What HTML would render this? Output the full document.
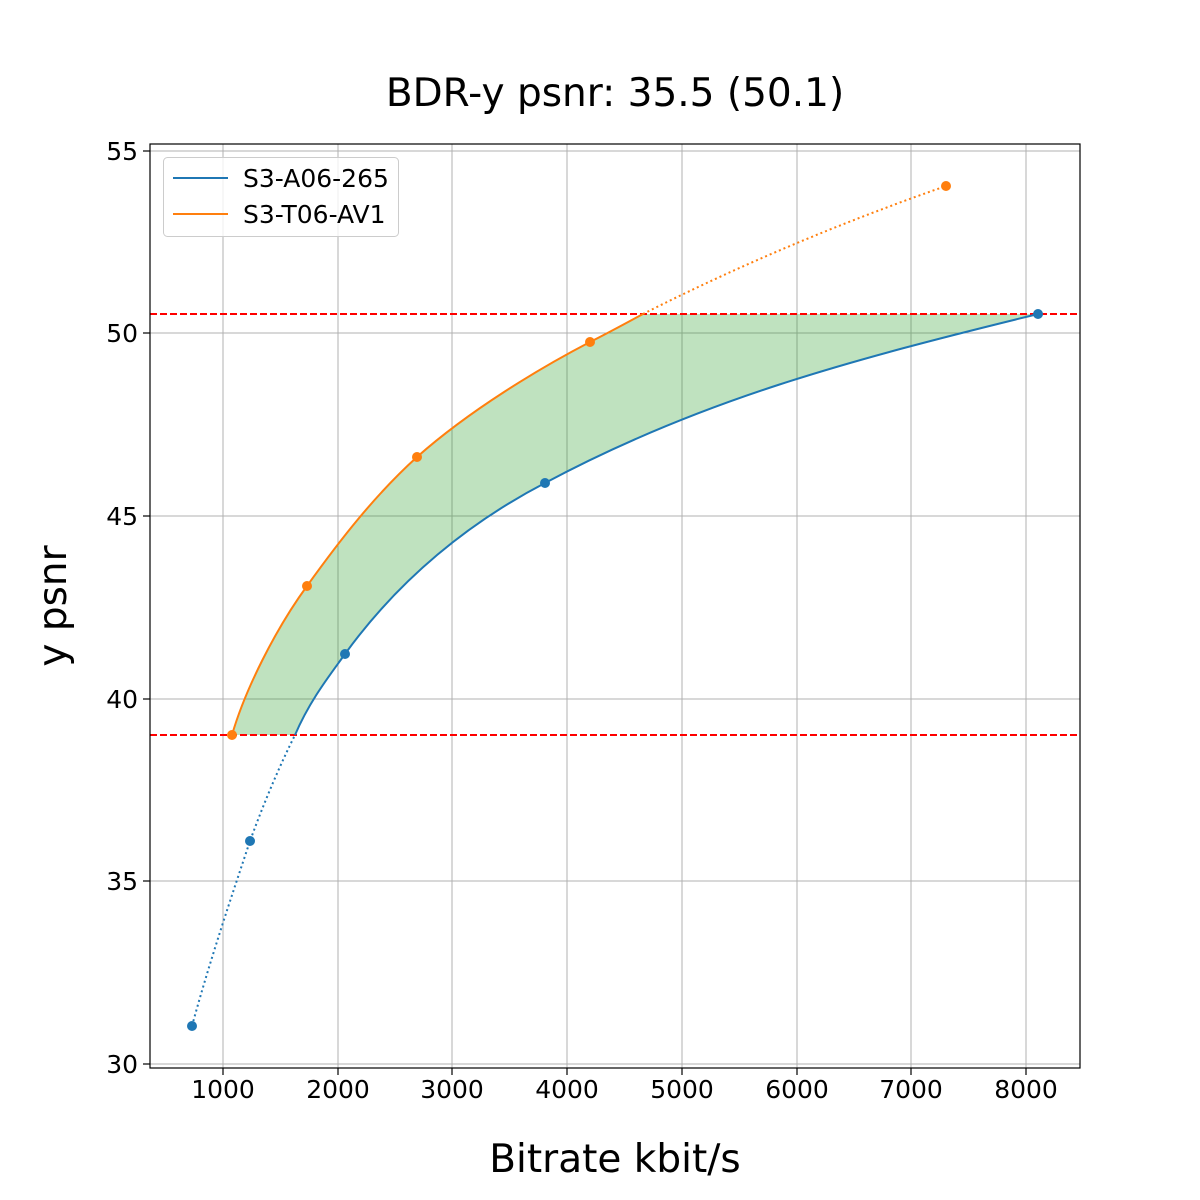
<!DOCTYPE html>
<html><head><meta charset="utf-8"><style>
body{margin:0;background:#fff}
svg{display:block;font-family:"DejaVu Sans","Liberation Sans",sans-serif}
</style></head><body>
<svg width="1200" height="1200" viewBox="0 0 1200 1200">
<rect width="1200" height="1200" fill="#fff"/>
<text x="615" y="106" font-size="39" text-anchor="middle" fill="#000">BDR-y psnr: 35.5 (50.1)</text>
<g stroke="#b0b0b0" stroke-width="1">
<line x1="223" y1="144" x2="223" y2="1068"/><line x1="338" y1="144" x2="338" y2="1068"/>
<line x1="452" y1="144" x2="452" y2="1068"/><line x1="567" y1="144" x2="567" y2="1068"/>
<line x1="682" y1="144" x2="682" y2="1068"/><line x1="797" y1="144" x2="797" y2="1068"/>
<line x1="911" y1="144" x2="911" y2="1068"/><line x1="1026" y1="144" x2="1026" y2="1068"/>
<line x1="150" y1="151" x2="1080" y2="151"/><line x1="150" y1="333" x2="1080" y2="333"/>
<line x1="150" y1="516" x2="1080" y2="516"/><line x1="150" y1="699" x2="1080" y2="699"/>
<line x1="150" y1="881" x2="1080" y2="881"/><line x1="150" y1="1064" x2="1080" y2="1064"/>
</g>
<path d="M232,735 C245,690 275,630 307,586 C340,540 375,495 417,457 C470,410 540,368 590,342 C610,332 628,322 643,314 L1038,314 C850,360 700,400 545,483 C470,522 400,578 345,654 C330,675 310,700 295,735 Z" fill="#2ca02c" fill-opacity="0.3"/>
<g stroke="#ff0000" stroke-width="2" stroke-dasharray="7,3">
<line x1="150" y1="314" x2="1080" y2="314"/><line x1="150" y1="735" x2="1080" y2="735"/>
</g>
<path d="M295,735 C310,700 330,675 345,654 C400,578 470,522 545,483 C700,400 850,360 1038,314" fill="none" stroke="#1f77b4" stroke-width="2"/>
<path d="M192,1026 C210,960 232,895 250,841 C265,800 280,765 295,735" fill="none" stroke="#1f77b4" stroke-width="2" stroke-dasharray="2,3"/>
<path d="M232,735 C245,690 275,630 307,586 C340,540 375,495 417,457 C470,410 540,368 590,342 C610,332 628,322 643,314" fill="none" stroke="#ff7f0e" stroke-width="2"/>
<path d="M643,314 C720,275 820,230 946,186" fill="none" stroke="#ff7f0e" stroke-width="2" stroke-dasharray="2,3"/>
<g fill="#1f77b4"><circle cx="192" cy="1026" r="5"/><circle cx="250" cy="841" r="5"/><circle cx="345" cy="654" r="5"/><circle cx="545" cy="483" r="5"/><circle cx="1038" cy="314" r="5"/></g>
<g fill="#ff7f0e"><circle cx="232" cy="735" r="5"/><circle cx="307" cy="586" r="5"/><circle cx="417" cy="457" r="5"/><circle cx="590" cy="342" r="5"/><circle cx="946" cy="186" r="5"/></g>
<rect x="150" y="144" width="930" height="924" fill="none" stroke="#000" stroke-width="1.2"/>
<g stroke="#000" stroke-width="1.2">
<line x1="223" y1="1068" x2="223" y2="1075"/><line x1="338" y1="1068" x2="338" y2="1075"/>
<line x1="452" y1="1068" x2="452" y2="1075"/><line x1="567" y1="1068" x2="567" y2="1075"/>
<line x1="682" y1="1068" x2="682" y2="1075"/><line x1="797" y1="1068" x2="797" y2="1075"/>
<line x1="911" y1="1068" x2="911" y2="1075"/><line x1="1026" y1="1068" x2="1026" y2="1075"/>
<line x1="143" y1="151" x2="150" y2="151"/><line x1="143" y1="333" x2="150" y2="333"/>
<line x1="143" y1="516" x2="150" y2="516"/><line x1="143" y1="699" x2="150" y2="699"/>
<line x1="143" y1="881" x2="150" y2="881"/><line x1="143" y1="1064" x2="150" y2="1064"/>
</g>
<g font-size="25" fill="#000" text-anchor="middle">
<text x="223" y="1098">1000</text><text x="338" y="1098">2000</text><text x="452" y="1098">3000</text>
<text x="567" y="1098">4000</text><text x="682" y="1098">5000</text><text x="797" y="1098">6000</text>
<text x="911" y="1098">7000</text><text x="1026" y="1098">8000</text>
</g>
<g font-size="25" fill="#000" text-anchor="end">
<text x="138" y="160">55</text><text x="138" y="342">50</text><text x="138" y="525">45</text>
<text x="138" y="708">40</text><text x="138" y="890">35</text><text x="138" y="1073">30</text>
</g>
<text x="615" y="1172" font-size="39" text-anchor="middle">Bitrate kbit/s</text>
<text transform="translate(66,606) rotate(-90)" font-size="39" text-anchor="middle">y psnr</text>
<rect x="163.5" y="157.5" width="235" height="79" rx="4" fill="#fff" fill-opacity="0.8" stroke="#ccc"/>
<line x1="173" y1="178" x2="228" y2="178" stroke="#1f77b4" stroke-width="2"/>
<line x1="173" y1="214" x2="228" y2="214" stroke="#ff7f0e" stroke-width="2"/>
<text x="243" y="187" font-size="25">S3-A06-265</text>
<text x="243" y="223" font-size="25">S3-T06-AV1</text>
</svg>
</body></html>
